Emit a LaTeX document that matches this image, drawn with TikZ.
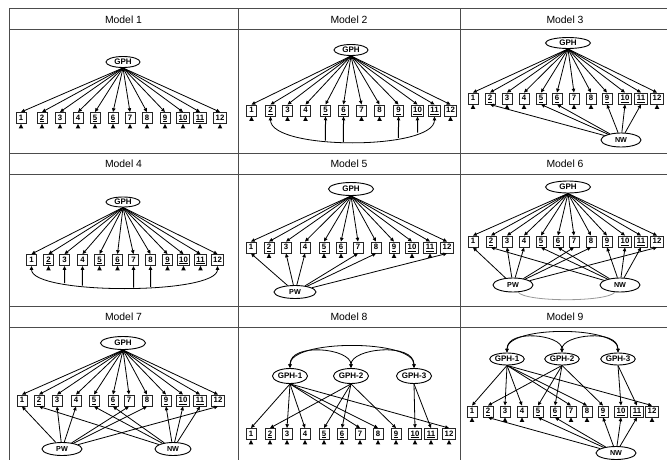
\documentclass[tikz,border=0pt]{standalone}
\usepackage{fontspec}
\setmainfont{Liberation Sans}
\usetikzlibrary{shapes.geometric,arrows.meta,intersections}
\newcommand\itemlab[1]{\ifcase#1\or 1\or\underline{2}\or 3\or 4\or\underline{5}\or\underline{6}\or 7\or 8\or\underline{9}\or\underline{10}\or\underline{11}\or 12\fi}
\tikzset{
 gridline/.style={draw=black!70, line width=1pt},
 ttl/.style={font=\fontsize{10.4}{12}\selectfont},
 ibox/.style={draw=black!85, line width=0.9pt, inner xsep=2pt, inner ysep=0pt, minimum width=10pt, minimum height=11pt, text height=5.6pt, text depth=1.2pt, font=\bfseries\fontsize{7.8}{8}\selectfont},
 lat/.style={ellipse, draw=black, line width=0.9pt, inner sep=0pt, font=\bfseries\fontsize{8}{9}\selectfont},
 mlat/.style={ellipse, draw=black, line width=0.9pt, inner sep=0pt, font=\bfseries\fontsize{7.2}{8}\selectfont},
 ld/.style={line width=0.8pt, -{Triangle[length=3.8pt,width=3.4pt]}},
 vld/.style={line width=1pt, -{Triangle[length=3.8pt,width=3.4pt]}},
 cov/.style={line width=0.8pt, {Triangle[length=3.8pt,width=3.4pt]}-{Triangle[length=3.8pt,width=3.4pt]}},
 grcov/.style={draw=black!40, line width=0.8pt},
 errtri/.style={fill=black},
}
\begin{document}
\begin{tikzpicture}[x=1pt,y=-1pt]
\useasboundingbox (0,0) rectangle (667,460);
\clip (0,0) rectangle (667,460);
% ---------------- grid ----------------
\draw[gridline] (9,470) -- (9,9) -- (680,9);
\foreach \yy in {30,153,174,306,327} \draw[gridline] (9,\yy) -- (680,\yy);
\draw[gridline] (238,9) -- (238,470);
\draw[gridline] (460,9) -- (460,470);
\node[ttl] (t1) at (123.5,19.5) {Model 1};
\node[ttl] (t2) at (349,19.5) {Model 2};
\node[ttl] (t3) at (565,19.5) {Model 3};
\node[ttl] (t4) at (123.5,163.5) {Model 4};
\node[ttl] (t5) at (349,163.5) {Model 5};
\node[ttl] (t6) at (565,163.5) {Model 6};
\node[ttl] (t7) at (123.5,316.5) {Model 7};
\node[ttl] (t8) at (349,316.5) {Model 8};
\node[ttl] (t9) at (565,316.5) {Model 9};
% ---------------- Model 1 ----------------
\node[lat, minimum width=34pt, minimum height=11pt] (ga) at (123,62) {GPH};
\foreach \x [count=\i] in {21,42,60,78,95,113,130,147,165,183,200,220}
  \node[ibox] (a\i) at (\x,118) {\itemlab{\i}};
\foreach \i in {1,...,12} {
  \draw[ld] (ga.south) -- (a\i.north);
  \fill[errtri] (a\i.south) -- ++(-2.3,4.4) -- ++(4.6,0) -- cycle;
}
% ---------------- Model 2 ----------------
\node[lat, minimum width=34pt, minimum height=11pt] (gb) at (351,50) {GPH};
\foreach \x [count=\i] in {251.5,270.5,287.5,305.5,325.5,343.5,361.5,379.5,398.5,417.5,434.5,450.5}
  \node[ibox] (b\i) at (\x,110.5) {\itemlab{\i}};
\foreach \i in {1,...,12} \draw[ld] (gb.south) -- (b\i.north);
\foreach \i in {1,3,4,7,8,12} \fill[errtri] (b\i.south) -- ++(-2.3,4.4) -- ++(4.6,0) -- cycle;
\draw[cov, name path=arcb] (b2.south) .. controls +(0,34) and +(0,34) .. (b11.south);
\foreach \i in {5,6,9,10} {
  \path[name path=vb\i] (b\i.south) -- ++(0,60);
  \path[name intersections={of=arcb and vb\i, by={pb\i}}];
  \draw[vld] (pb\i) -- (b\i.south);
}
% ---------------- Model 3 ----------------
\node[lat, minimum width=45pt, minimum height=11pt] (gc) at (568,43) {GPH};
\foreach \x [count=\i] in {473,490,507,524,541,557,574,591,607,625,641,657}
  \node[ibox] (c\i) at (\x,98.5) {\itemlab{\i}};
\node[mlat, minimum width=40pt, minimum height=14pt] (nwc) at (621,140) {NW};
\foreach \i in {1,...,12} \draw[ld] (gc.south) -- (c\i.north);
\foreach \i in {1,3,4,7,8,12} \fill[errtri] (c\i.south) -- ++(-2.3,4.4) -- ++(4.6,0) -- cycle;
\foreach \i in {2,5,6,9,10,11} \draw[ld] (nwc) -- (c\i.south);
% ---------------- Model 4 ----------------
\node[lat, minimum width=34pt, minimum height=10pt] (gd) at (123,202) {GPH};
\foreach \x [count=\i] in {31.5,48.5,64.5,82.5,99.5,117.5,133.5,150.5,167.5,183.5,200.5,217.5}
  \node[ibox] (d\i) at (\x,260) {\itemlab{\i}};
\foreach \i in {1,...,12} \draw[ld] (gd.south) -- (d\i.north);
\foreach \i in {2,5,6,9,10,11} \fill[errtri] (d\i.south) -- ++(-2.3,4.4) -- ++(4.6,0) -- cycle;
\draw[cov, name path=arcd] (d1.south) .. controls +(0,29) and +(0,29) .. (d12.south);
\foreach \i in {3,4,7,8} {
  \path[name path=vd\i] (d\i.south) -- ++(0,60);
  \path[name intersections={of=arcd and vd\i, by={pd\i}}];
  \draw[vld] (pd\i) -- (d\i.south);
}
% ---------------- Model 5 ----------------
\node[lat, minimum width=45pt, minimum height=13pt] (ge) at (351,189) {GPH};
\foreach \x [count=\i] in {251,269,286,305,324,341,358,376,394,412,430,447}
  \node[ibox] (e\i) at (\x,247.5) {\itemlab{\i}};
\node[mlat, minimum width=42pt, minimum height=13pt] (pwe) at (295,292) {PW};
\foreach \i in {1,...,12} \draw[ld] (ge.south) -- (e\i.north);
\foreach \i in {2,5,6,9,10,11} \fill[errtri] (e\i.south) -- ++(-2.3,4.4) -- ++(4.6,0) -- cycle;
\foreach \i in {1,3,4,7,8,12} \draw[ld] (pwe) -- (e\i.south);
% ---------------- Model 6 ----------------
\node[lat, minimum width=45pt, minimum height=12pt] (gf) at (568,187) {GPH};
\foreach \x [count=\i] in {473,491,507,524,541,558,574,591,607,625,641,657}
  \node[ibox] (f\i) at (\x,241.5) {\itemlab{\i}};
\node[mlat, minimum width=40pt, minimum height=14pt] (pwf) at (513,285) {PW};
\node[mlat, minimum width=40pt, minimum height=14pt] (nwf) at (620,285) {NW};
\foreach \i in {1,...,12} \draw[ld] (gf.south) -- (f\i.north);
\foreach \i in {1,3,4,7,8,12} \draw[ld] (pwf) -- (f\i.south);
\foreach \i in {2,5,6,9,10,11} \draw[ld] (nwf) -- (f\i.south);
\draw[grcov] (pwf.-55) .. controls +(8,10) and +(-8,10) .. (nwf.235);
% ---------------- Model 7 ----------------
\node[lat, minimum width=45pt, minimum height=13pt] (gg) at (123,343) {GPH};
\foreach \x [count=\i] in {22,39,57,76,94,113,129,147,166,183,200,218}
  \node[ibox] (g\i) at (\x,400.5) {\itemlab{\i}};
\node[mlat, minimum width=40pt, minimum height=13pt] (pwg) at (62,449) {PW};
\node[mlat, minimum width=36pt, minimum height=13pt] (nwg) at (173,449) {NW};
\foreach \i in {1,...,12} \draw[ld] (gg.south) -- (g\i.north);
\foreach \i in {1,3,4,7,8,12} \draw[ld] (pwg) -- (g\i.south);
\foreach \i in {2,5,6,9,10,11} \draw[ld] (nwg) -- (g\i.south);
% ---------------- Model 8 ----------------
\node[lat, minimum width=35pt, minimum height=15pt] (h1) at (290,376) {GPH-1};
\node[lat, minimum width=35pt, minimum height=15pt] (h2) at (351,376) {GPH-2};
\node[lat, minimum width=35pt, minimum height=15pt] (h3) at (414,376) {GPH-3};
\foreach \x [count=\i] in {251,270,287,305,324,342,360,378,396,415,431,449}
  \node[ibox] (k\i) at (\x,434) {\itemlab{\i}};
\foreach \i in {1,...,12} \fill[errtri] (k\i.south) -- ++(-2.3,4.4) -- ++(4.6,0) -- cycle;
\foreach \i in {1,3,4,7,8,12} \draw[ld] (h1.south) -- (k\i.north);
\foreach \i in {2,5,6,9} \draw[ld] (h2.south) -- (k\i.north);
\foreach \i in {10,11} \draw[ld] (h3.south) -- (k\i.north);
\draw[cov] (h1.north) .. controls +(0,-29) and +(0,-29) .. (h3.north);
\draw[cov] (h1.north) .. controls +(0,-26) and +(0,-20) .. (h2.north);
\draw[cov] (h2.north) .. controls +(0,-20) and +(0,-26) .. (h3.north);
% ---------------- Model 9 ----------------
\node[lat, minimum width=32pt, minimum height=12pt] (m1) at (507,359) {GPH-1};
\node[lat, minimum width=32pt, minimum height=12pt] (m2) at (562,359) {GPH-2};
\node[lat, minimum width=32pt, minimum height=12pt] (m3) at (618,359) {GPH-3};
\foreach \x [count=\i] in {472,488,505,522,538,555,571,587,603,621,637,652}
  \node[ibox] (n\i) at (\x,411.5) {\itemlab{\i}};
\node[mlat, minimum width=40pt, minimum height=13pt] (nwn) at (616,453) {NW};
\foreach \i in {1,3,4,7,8,12} \fill[errtri] (n\i.south) -- ++(-2.3,4.4) -- ++(4.6,0) -- cycle;
\foreach \i in {1,3,4,7,8,12} \draw[ld] (m1.south) -- (n\i.north);
\foreach \i in {2,5,6,9} \draw[ld] (m2.south) -- (n\i.north);
\foreach \i in {10,11} \draw[ld] (m3.south) -- (n\i.north);
\foreach \i in {2,5,6,9,10,11} \draw[ld] (nwn) -- (n\i.south);
\draw[cov] (m1.north) .. controls +(0,-27) and +(0,-27) .. (m3.north);
\draw[cov] (m1.north) .. controls +(0,-24) and +(0,-18) .. (m2.north);
\draw[cov] (m2.north) .. controls +(0,-18) and +(0,-24) .. (m3.north);
\end{tikzpicture}
\end{document}
